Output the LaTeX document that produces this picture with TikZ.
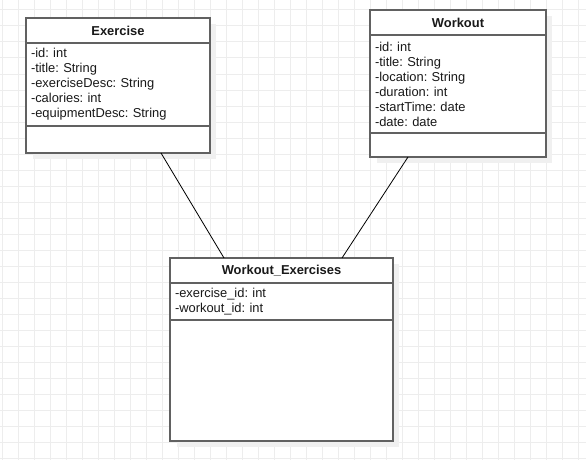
\documentclass[tikz,border=0pt]{standalone}
\usepackage{fontspec}
\setmainfont{Liberation Sans}
\usetikzlibrary{positioning}
\frenchspacing

\tikzset{
  classbox/.style={rectangle, draw=black!62, line width=1.2pt, fill=white,
                   outer sep=0pt, inner sep=0pt, text=black!90,
                   font=\fontsize{12.9}{15}\selectfont},
  titlebox/.style={minimum height=25pt, font=\fontsize{12.9}{15}\selectfont\bfseries},
  attrbox/.style={align=left, inner xsep=5pt},
  gridline/.style={draw=black!7, line width=1pt},
  shadowfill/.style={fill=black!6}
}

\begin{document}
\begin{tikzpicture}[x=1pt, y=-1pt]
\fill[white] (0,0) rectangle (586,460);
\useasboundingbox (0,0) rectangle (586,460);

% grid
\foreach \gx in {2,18,...,578}
    \draw[gridline] (\gx,0) -- (\gx,460);
\foreach \gy in {10,26,...,458}
    \draw[gridline] (0,\gy) -- (586,\gy);

% shadows
\fill[shadowfill] (33,24) rectangle (216,159);
\fill[shadowfill] (377,16) rectangle (552,163);
\fill[shadowfill] (177,264) rectangle (399,447);

\begin{scope}[every node/.style={classbox}]
    \node[titlebox, minimum width=184pt, anchor=north west] (exercise) at (26,18) {Exercise};
    \node[attrbox, text width=174pt, minimum width=184pt, minimum height=83pt,
          below=0pt of exercise] (exerciseAttr)
          {-id: int\\-title: String\\-exerciseDesc: String\\-calories: int\\-equipmentDesc: String};
    \node[minimum width=184pt, minimum height=27pt, below=0pt of exerciseAttr] (exerciseOps) {};

    \node[titlebox, minimum width=176pt, anchor=north west] (workout) at (370,10) {Workout};
    \node[attrbox, text width=166pt, minimum width=176pt, minimum height=98pt,
          below=0pt of workout] (workoutAttr)
          {-id: int\\-title: String\\-location: String\\-duration: int\\-startTime: date\\-date: date};
    \node[minimum width=176pt, minimum height=24pt, below=0pt of workoutAttr] (workoutOps) {};

    \node[titlebox, minimum width=223pt, anchor=north west] (link) at (170,258) {Workout\_Exercises};
    \node[attrbox, text width=213pt, minimum width=223pt, minimum height=37pt,
          below=0pt of link] (linkAttr)
          {-exercise\_id: int\\-workout\_id: int};
    \node[minimum width=223pt, minimum height=121pt, below=0pt of linkAttr] (linkOps) {};
\end{scope}

\begin{scope}[every edge/.style={draw=black, line width=0.8pt}]
    \path ([xshift=43pt]exerciseOps.south) edge ([xshift=-57.5pt]link.north);
    \path ([xshift=-50pt]workoutOps.south) edge ([xshift=60.5pt]link.north);
\end{scope}
\end{tikzpicture}
\end{document}
